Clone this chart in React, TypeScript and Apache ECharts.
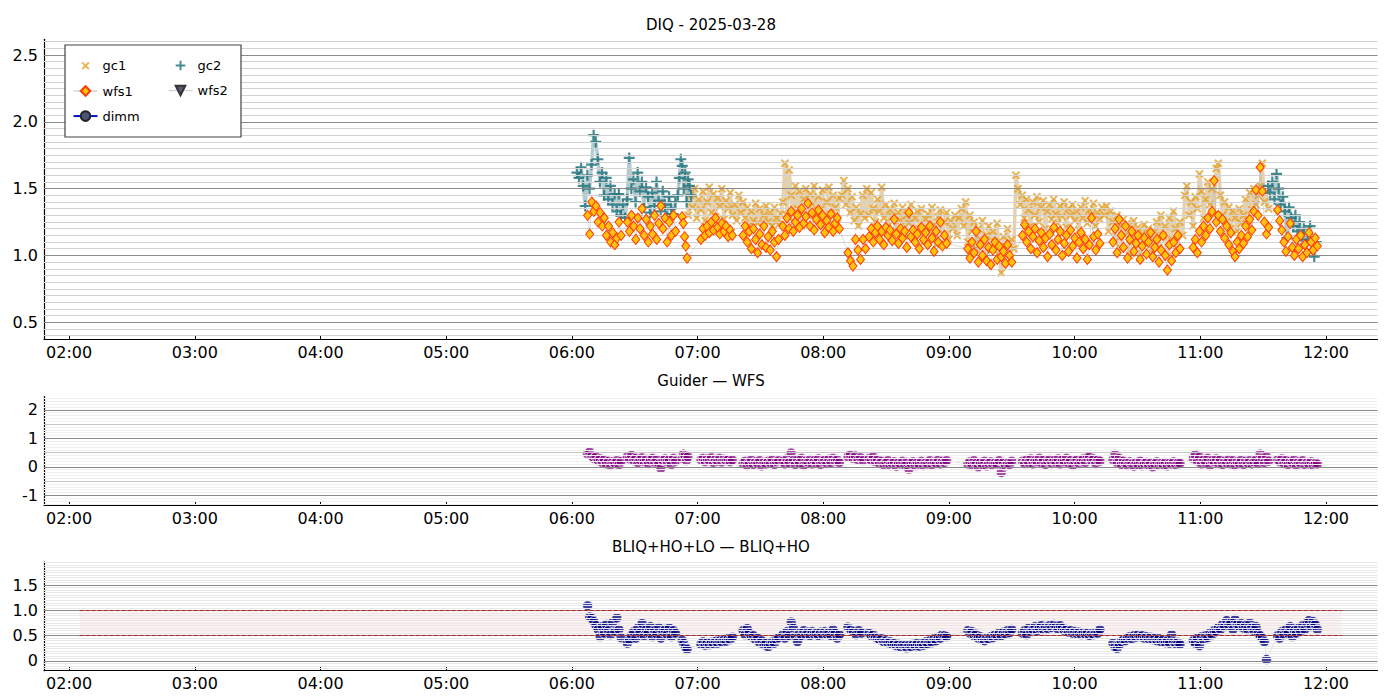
import React, { useEffect, useRef } from "react";
import * as echarts from "echarts";

type Seg = [string, number, (number | null)[]];

const FONT = "DejaVu Sans";
const TITLES = ["DIQ - 2025-03-28", "Guider — WFS", "BLIQ+HO+LO — BLIQ+HO"];
const X_TICKS = ["02:00", "03:00", "04:00", "05:00", "06:00", "07:00", "08:00", "09:00", "10:00", "11:00", "12:00"];
const X_RANGE = ["01:48:00", "12:24:36"];
const Y_TICKS_TOP = [0.5, 1.0, 1.5, 2.0, 2.5];
const Y_TICKS_MID = [-1, 0, 1, 2];
const Y_TICKS_BOT = [0, 0.5, 1.0, 1.5];
const Y_RANGE_TOP = [0.372, 2.618];
const Y_RANGE_MID = [-1.34, 2.47];
const Y_RANGE_BOT = [-0.192, 1.955];
const BAND_TIMES = ["02:05:00", "12:07:30"];
const BAND_LEVELS = [0.5, 1.0];
const LEGEND_LEFT = ["gc1", "wfs1", "dimm"];
const LEGEND_RIGHT = ["gc2", "wfs2"];

// gc1 — guide camera 1 (x markers)
const gc1: Seg[] = [
  ["06:54:36", 1, [1.55, 1.30, 1.45, 1.36, 1.50, 1.28, 1.42, 1.34, 1.48, 1.26, 1.40, 1.51, 1.32, 1.46, 1.29, 1.43, 1.37, 1.50, 1.27, 1.41, 1.35, 1.47, 1.30]],
  ["07:17:42", 1, [1.38, 1.26, 1.45, 1.32, 1.40, 1.28, 1.36, 1.22, 1.33, 1.26, 1.39, 1.24, 1.35, 1.21, 1.30, 1.37, 1.25, 1.32, 1.22, 1.36, 1.28, 1.23, 1.31]],
  ["07:40:42", 1, [1.40, 1.69, 1.30, 1.64, 1.45, 1.25, 1.52, 1.35, 1.48, 1.22, 1.42, 1.50, 1.30, 1.46, 1.38, 1.52, 1.27, 1.44, 1.34, 1.49, 1.20, 1.40, 1.51, 1.31, 1.45, 1.36, 1.24, 1.43]],
  ["08:08:48", 1, [1.45, 1.56, 1.38, 1.50, 1.32, 1.44, 1.26, 1.36, 1.22, 1.31, 1.45, 1.28, 1.50]],
  ["08:21:54", 1, [1.30, 1.47, 1.35, 1.25, 1.42, 1.33, 1.51, 1.28, 1.38, 1.22, 1.34, 1.29, 1.39, 1.18, 1.32, 1.26, 1.36, 1.15, 1.30, 1.24, 1.38, 1.12, 1.28, 1.33, 1.20, 1.35, 1.10, 1.27, 1.31, 1.18, 1.36, 1.23, 1.08, 1.29, 1.34, 1.16, 1.25, 1.32, 1.12, 1.26, 1.20, 1.30, 1.15, 1.28]],
  ["09:06:00", 1, [1.35, 1.22, 1.40, 1.10, 1.30, 1.18, 1.25, 1.05, 1.20, 1.12, 1.26, 0.98, 1.15, 1.22, 1.04, 1.18, 1.10, 1.24, 1.00, 0.87, 1.14, 1.07, 1.20, 0.97, 1.12, 1.05]],
  ["09:32:00", 1, [1.60, 1.50, 1.38, 1.45, 1.28, 1.42, 1.34, 1.22, 1.40, 1.30, 1.44, 1.25, 1.36, 1.41, 1.20, 1.33, 1.38, 1.27, 1.42, 1.31, 1.24, 1.37, 1.29, 1.40, 1.21, 1.35, 1.30, 1.38, 1.26, 1.33, 1.19, 1.36, 1.28, 1.41, 1.24, 1.34, 1.30, 1.39, 1.22, 1.32, 1.27, 1.36]],
  ["10:14:12", 1, [1.30, 1.37, 1.18, 1.33, 1.25, 1.10, 1.30, 1.22, 1.05, 1.27, 1.15, 1.24, 1.00, 1.19, 1.26, 1.12, 1.21, 0.98, 1.16, 1.23, 1.08, 1.20, 1.13, 1.02, 1.18, 1.25, 1.06, 1.30, 1.15, 1.22, 0.99, 1.28, 1.12, 1.33, 1.20, 1.05, 1.25]],
  ["10:51:36", 1, [1.15, 1.45, 1.52, 1.30, 1.40, 1.22, 1.44, 1.35, 1.61, 1.48, 1.28, 1.42, 1.55, 1.38, 1.50, 1.30, 1.65, 1.69, 1.45, 1.30, 1.40, 1.25, 1.36, 1.20, 1.33, 1.28, 1.18, 1.35, 1.24, 1.30, 1.42, 1.26, 1.47, 1.34, 1.50, 1.38, 1.45, 1.52, 1.69, 1.40, 1.48, 1.35]],
];

// gc2 — guide camera 2 (+ markers); null = no data between the two runs
const gc2: Seg[] = [
  ["06:02:24", 1, [1.62, 1.58, 1.66, 1.52, 1.37, 1.60, 1.50, 1.68, 1.90, 1.85, 1.72, 1.55, 1.62, 1.45, 1.58, 1.42, 1.52, 1.38, 1.46, 1.33, 1.46, 1.30, 1.38, 1.28, 1.42, 1.73, 1.50, 1.57, 1.40, 1.62, 1.48, 1.55, 1.36, 1.51, 1.44, 1.32, 1.47, 1.37, 1.55, 1.41, 1.33, 1.48, 1.38, 1.29, 1.44, 1.35, 1.31, 1.40]],
  ["06:50:36", 0.7, [1.45, 1.58, 1.72, 1.67, 1.50, 1.62, 1.40, 1.57, 1.52, 1.45]],
  ["09:00:00", 1, [null]],
  ["11:32:24", 1, [1.52, 1.47, 1.55, 1.42, 1.61, 1.50, 1.38, 1.44, 1.33, 1.13, 1.36, 1.28, 1.22, 1.30, 1.18, 1.25, 1.12, 1.20, 1.08, 1.15, 1.22, 1.05, 0.99, 1.10]],
];

// wfs1 — wavefront sensor 1 (diamonds)
const wfs1: Seg[] = [
  ["06:07:30", 1, [1.30, 1.16, 1.40, 1.33, 1.37, 1.25, 1.32, 1.22, 1.28, 1.15, 1.22, 1.10, 1.17, 1.08, 1.13, 1.25, 1.15]],
  ["06:26:30", 1, [1.25, 1.18, 1.30, 1.22, 1.12, 1.28, 1.20, 1.35, 1.15, 1.27, 1.10, 1.22, 1.16, 1.30, 1.12, 1.24, 1.37, 1.20, 1.28, 1.10, 1.25, 1.15, 1.30, 1.18]],
  ["06:52:36", 0.6, [1.29, 1.24, 1.14, 1.07, 0.98]],
  ["07:01:36", 1, [1.12, 1.20, 1.15, 1.22, 1.17, 1.25, 1.19, 1.28, 1.21, 1.16, 1.24, 1.18, 1.22, 1.14, 1.19, 1.15]],
  ["07:21:42", 1, [1.15, 1.22, 1.10, 1.18, 1.05, 1.20, 1.12, 1.02, 1.16, 1.08, 1.22, 1.06, 1.14, 1.04, 1.18, 1.10, 0.99, 1.12]],
  ["07:40:42", 1, [1.22, 1.15, 1.28, 1.20, 1.33, 1.18, 1.25, 1.30, 1.21, 1.35, 1.24, 1.29, 1.39, 1.22, 1.32, 1.19, 1.27, 1.34, 1.23, 1.30, 1.17, 1.26, 1.21, 1.31, 1.18, 1.24, 1.28, 1.20]],
  ["08:11:48", 1.2, [1.02, 0.96, 0.92, 1.12, 1.04, 0.97, 1.12, 1.05]],
  ["08:21:54", 1, [1.14, 1.20, 1.10, 1.17, 1.22, 1.12, 1.18, 1.08, 1.21, 1.15, 1.19, 1.11, 1.27, 1.16, 1.09, 1.20, 1.13, 1.18, 1.06, 1.32, 1.14, 1.19, 1.10, 1.16, 1.05, 1.21, 1.12, 1.17, 1.08, 1.22, 1.13, 1.03, 1.18, 1.10, 1.25, 1.07, 1.15, 1.09]],
  ["09:09:00", 1, [1.05, 0.98, 1.10, 1.02, 1.18, 0.95, 1.08, 1.00, 1.12, 0.96, 1.06, 0.93, 1.04, 1.10, 0.97, 1.07, 0.99, 1.03, 0.94, 1.08, 1.00, 0.95]],
  ["09:35:06", 1, [1.15, 1.23, 1.10, 1.18, 1.05, 1.14, 1.20, 1.02, 1.11, 1.17, 1.06, 1.13, 0.99, 1.16, 1.08, 1.21, 1.04, 1.12, 1.18, 1.00, 1.09, 1.15, 1.03, 1.19, 1.07, 1.13, 0.98, 1.10, 1.17, 1.05, 1.12, 0.97, 1.08, 1.28, 1.14, 1.04, 1.16, 1.09]],
  ["10:18:18", 1, [1.10, 1.20, 1.02, 1.27, 1.15, 1.06, 1.22, 0.98, 1.12, 1.18, 1.03, 1.09, 1.15, 0.97, 1.07, 1.13, 1.01, 1.10, 1.17, 0.99, 1.06, 1.12, 0.95, 1.04, 1.15, 1.00, 0.89, 1.08, 0.96, 1.10, 1.02, 1.15, 1.05]],
  ["10:56:36", 1, [1.06, 1.12, 1.02, 1.18, 1.10, 1.22, 1.15, 1.28, 1.20, 1.33, 1.56, 1.25, 1.30, 1.18, 1.27, 1.13, 1.22, 1.08, 1.17, 1.03, 0.99, 1.10, 1.05, 1.15, 1.09, 1.22, 1.14, 1.27, 1.19, 1.33, 1.49, 1.30, 1.66, 1.48, 1.25, 1.16, 1.21]],
  ["11:36:54", 1, [1.34, 1.26, 1.19, 1.10, 1.03, 1.14, 1.24, 1.06, 1.00, 1.12, 1.05, 1.15, 0.99, 1.08, 1.02, 1.17, 1.10, 1.04, 1.13, 1.07]],
];

// Guider − WFS difference
const guiderWfs: Seg[] = [
  ["06:07:30", 1, [0.45, 0.52, 0.38, 0.30, 0.35, 0.22, 0.28, 0.15, 0.25, 0.10, 0.20, 0.05, 0.18, 0.12, 0.22, 0.08, 0.20]],
  ["06:26:30", 1, [0.35, 0.28, 0.40, 0.22, 0.30, 0.15, 0.25, 0.32, 0.18, 0.27, 0.12, 0.24, 0.30, 0.16, 0.26, 0.10, -0.05, 0.22, 0.28, 0.18, 0.25, 0.08, 0.30, 0.20]],
  ["06:52:36", 0.7, [0.30, 0.45, 0.38, 0.22, 0.35]],
  ["07:01:36", 1, [0.25, 0.30, 0.18, 0.28, 0.22, 0.32, 0.15, 0.26, 0.20, 0.30, 0.17, 0.27, 0.22, 0.25, 0.18, 0.24]],
  ["07:21:42", 1, [0.12, 0.20, 0.05, 0.15, 0.25, 0.08, 0.18, 0.12, 0.22, 0.03, 0.16, 0.10, 0.20, 0.14, 0.25, 0.08, 0.18, 0.22]],
  ["07:40:42", 1, [0.20, 0.10, 0.28, 0.15, 0.49, 0.22, 0.08, 0.25, 0.12, 0.30, 0.05, 0.20, 0.16, 0.26, 0.10, 0.22, 0.14, 0.28, 0.08, 0.19, 0.24, 0.12, 0.27, 0.15, 0.30, 0.20, 0.25, 0.15]],
  ["08:11:48", 1.2, [0.35, 0.42, 0.30, 0.38, 0.25, 0.32, 0.22]],
  ["08:21:54", 1, [0.30, 0.22, 0.35, 0.18, 0.25, 0.12, 0.20, 0.08, 0.15, 0.22, 0.05, 0.12, 0.18, 0.02, 0.14, 0.10, 0.20, 0.06, 0.16, -0.08, 0.12, 0.18, 0.04, 0.14, 0.09, 0.20, 0.05, 0.15, 0.10, 0.22, 0.07, 0.17, 0.12, 0.24, 0.10, 0.20, 0.15, 0.22]],
  ["09:09:00", 1, [0.10, 0.18, 0.05, 0.22, 0.12, 0.00, 0.15, 0.08, 0.20, 0.03, 0.12, 0.18, 0.06, 0.14, 0.10, 0.22, -0.20, 0.15, 0.04, 0.12, 0.08, 0.20]],
  ["09:35:06", 1, [0.20, 0.12, 0.25, 0.15, 0.28, 0.10, 0.22, 0.18, 0.30, 0.14, 0.24, 0.08, 0.20, 0.26, 0.12, 0.22, 0.16, 0.28, 0.10, 0.24, 0.18, 0.30, 0.13, 0.22, 0.05, 0.19, 0.25, 0.12, 0.21, 0.28, 0.15, 0.32, 0.35, 0.22, 0.28, 0.12, 0.25, 0.20]],
  ["10:18:18", 1, [0.25, 0.43, 0.15, 0.30, 0.08, 0.20, 0.12, 0.05, 0.18, 0.10, 0.02, 0.15, 0.08, 0.20, 0.04, 0.12, 0.16, 0.06, 0.14, 0.00, 0.10, 0.18, 0.05, 0.12, 0.08, 0.15, 0.03, 0.13, 0.10, 0.18, 0.07, 0.14, 0.12]],
  ["10:56:36", 1, [0.30, 0.42, 0.20, 0.35, 0.10, 0.25, 0.15, 0.30, 0.05, 0.22, 0.18, 0.28, 0.12, 0.25, 0.08, 0.20, 0.15, 0.26, 0.10, 0.22, 0.05, 0.18, 0.12, 0.24, 0.08, 0.20, 0.14, 0.22, 0.10, 0.18, 0.25, 0.12, 0.45, 0.30, 0.15, 0.35, 0.20]],
  ["11:36:54", 1, [0.25, 0.18, 0.28, 0.12, 0.22, 0.08, 0.20, 0.15, 0.25, 0.05, 0.18, 0.12, 0.22, 0.08, 0.15, 0.10, 0.18, 0.05, 0.12, 0.10]],
];

// BLIQ+HO+LO − BLIQ+HO difference
const bliqDiff: Seg[] = [
  ["06:07:30", 1, [1.09, 0.87, 0.84, 0.78, 0.70, 0.62, 0.48, 0.68, 0.55, 0.72, 0.60, 0.52, 0.76, 0.58, 0.85, 0.62, 0.46]],
  ["06:26:30", 1, [0.35, 0.42, 0.50, 0.58, 0.45, 0.65, 0.55, 0.74, 0.50, 0.62, 0.56, 0.68, 0.48, 0.60, 0.53, 0.66, 0.45, 0.58, 0.62, 0.52, 0.65, 0.48, 0.60, 0.55]],
  ["06:52:36", 0.8, [0.41, 0.35, 0.28, 0.23]],
  ["07:01:36", 1, [0.33, 0.38, 0.31, 0.36, 0.32, 0.37, 0.34, 0.39, 0.35, 0.40, 0.37, 0.42, 0.39, 0.44, 0.42, 0.47]],
  ["07:21:42", 1, [0.60, 0.52, 0.64, 0.55, 0.48, 0.50, 0.42, 0.45, 0.36, 0.40, 0.32, 0.35, 0.28, 0.33, 0.38, 0.35, 0.42, 0.46]],
  ["07:40:42", 1, [0.52, 0.45, 0.58, 0.50, 0.77, 0.65, 0.48, 0.38, 0.55, 0.50, 0.60, 0.52, 0.57, 0.50, 0.58, 0.53, 0.55, 0.50, 0.57, 0.52, 0.58, 0.53, 0.56, 0.50, 0.62, 0.55, 0.45, 0.52]],
  ["08:11:48", 1.3, [0.67, 0.62, 0.58, 0.52, 0.60, 0.55]],
  ["08:21:54", 1, [0.55, 0.50, 0.52, 0.47, 0.45, 0.42, 0.44, 0.38, 0.40, 0.36, 0.38, 0.33, 0.35, 0.30, 0.33, 0.28, 0.32, 0.30, 0.26, 0.31, 0.28, 0.33, 0.30, 0.35, 0.29, 0.34, 0.31, 0.38, 0.33, 0.40, 0.36, 0.44, 0.40, 0.47, 0.45, 0.52, 0.50, 0.48]],
  ["09:09:00", 1, [0.60, 0.55, 0.58, 0.50, 0.53, 0.45, 0.48, 0.42, 0.40, 0.45, 0.43, 0.48, 0.46, 0.52, 0.49, 0.55, 0.50, 0.57, 0.53, 0.60, 0.56, 0.62]],
  ["09:35:06", 1, [0.55, 0.60, 0.52, 0.65, 0.58, 0.62, 0.68, 0.60, 0.65, 0.70, 0.62, 0.67, 0.64, 0.70, 0.66, 0.72, 0.68, 0.63, 0.70, 0.65, 0.60, 0.62, 0.57, 0.60, 0.55, 0.58, 0.54, 0.57, 0.52, 0.56, 0.53, 0.55, 0.50, 0.54, 0.52, 0.56, 0.55, 0.62]],
  ["10:18:18", 1, [0.35, 0.28, 0.25, 0.32, 0.38, 0.42, 0.40, 0.45, 0.48, 0.44, 0.50, 0.47, 0.52, 0.48, 0.50, 0.45, 0.48, 0.44, 0.47, 0.42, 0.45, 0.40, 0.44, 0.38, 0.42, 0.36, 0.40, 0.35, 0.52, 0.38, 0.34, 0.37, 0.33]],
  ["10:56:36", 1, [0.40, 0.35, 0.45, 0.30, 0.48, 0.42, 0.50, 0.46, 0.55, 0.52, 0.60, 0.58, 0.66, 0.62, 0.72, 0.68, 0.80, 0.70, 0.75, 0.62, 0.82, 0.72, 0.68, 0.74, 0.65, 0.70, 0.62, 0.75, 0.66, 0.60, 0.68, 0.55, 0.50, 0.45, 0.38, 0.03]],
  ["11:36:54", 1, [0.50, 0.45, 0.58, 0.52, 0.62, 0.55, 0.68, 0.48, 0.60, 0.55, 0.65, 0.58, 0.70, 0.62, 0.75, 0.80, 0.68, 0.78, 0.72, 0.62]],
];

const toMin = (s: string) => {
  const p = s.split(":").map(Number);
  return p[0] * 60 + p[1] + (p[2] || 0) / 60;
};
const pad = (n: number) => (n < 10 ? "0" + n : "" + n);
const fmtTime = (v: number) => {
  const h = Math.floor(v / 60 + 1e-6);
  const m = Math.round(v - h * 60);
  return pad(h) + ":" + pad(m);
};
const expand = (segs: Seg[]) =>
  segs.flatMap(([t, st, vals]) => {
    const t0 = toMin(t);
    return vals.map((v, i) => [Math.round((t0 + i * st) * 1000) / 1000, v === null ? "-" : v]);
  });

const PLUS = "path://M4 0H6V4H10V6H6V10H4V6H0V4H4Z";

function gridLineData(min: number, max: number, minorStep: number, levels: { step: number; color: string }[]) {
  const out: any[] = [];
  const k0 = Math.ceil(min / minorStep - 1e-6);
  const k1 = Math.floor(max / minorStep + 1e-6);
  const all: number[] = [];
  for (let k = k0; k <= k1; k++) all.push(Math.round(k * minorStep * 1000) / 1000);
  const isMult = (v: number, s: number) => Math.abs(v / s - Math.round(v / s)) < 1e-6;
  const byLevel: any[][] = levels.map(() => []);
  all.forEach((v) => {
    const idx = levels.findIndex((l) => isMult(v, l.step));
    const lv = idx >= 0 ? idx : levels.length - 1;
    byLevel[lv].push({ yAxis: v, lineStyle: { color: levels[lv].color, width: 1, type: "solid" } });
  });
  for (let i = byLevel.length - 1; i >= 0; i--) out.push(...byLevel[i]);
  return out;
}

function helperSeries(idx: number, lines: any[], extra: any = {}) {
  return {
    type: "line",
    xAxisIndex: idx,
    yAxisIndex: idx,
    data: [],
    silent: true,
    z: 0,
    markLine: {
      silent: true,
      symbol: ["none", "none"],
      label: { show: false },
      emphasis: { disabled: true },
      animation: false,
      data: lines,
    },
    ...extra,
  };
}

export default function App() {
  const ref = useRef<HTMLDivElement>(null);
  useEffect(() => {
    if (!ref.current) return;
    const chart = echarts.init(ref.current, null, { renderer: "svg" });
    const xMin = toMin(X_RANGE[0]);
    const xMax = toMin(X_RANGE[1]);
    const xTickVals = X_TICKS.map(toMin);
    const L = 44;
    const R = 22.5;
    const grids = [
      { left: L, right: R, top: 39.3, height: 300 },
      { left: L, right: R, top: 396.5, height: 108.5 },
      { left: L, right: R, top: 562, height: 108.7 },
    ];
    const xAxes = grids.map((_, i) => ({
      type: "value",
      gridIndex: i,
      min: xMin,
      max: xMax,
      axisLine: { show: true, onZero: false, lineStyle: { color: "#000", width: 1.2 } },
      axisTick: { show: true, inside: true, length: 4, customValues: xTickVals, lineStyle: { color: "#000", width: 1 } },
      axisLabel: { customValues: xTickVals, formatter: (v: number) => fmtTime(v), fontSize: 16, color: "#000", fontFamily: FONT, margin: 5 },
      splitLine: { show: false },
    }));
    const yCfg = [
      { r: Y_RANGE_TOP, t: Y_TICKS_TOP, f: (v: number) => v.toFixed(1) },
      { r: Y_RANGE_MID, t: Y_TICKS_MID, f: (v: number) => String(v) },
      { r: Y_RANGE_BOT, t: Y_TICKS_BOT, f: (v: number) => (v === 0 ? "0" : v.toFixed(1)) },
    ];
    const yAxes = yCfg.map((c, i) => ({
      type: "value",
      gridIndex: i,
      min: c.r[0],
      max: c.r[1],
      axisLine: { show: true, onZero: false, lineStyle: { color: "#000", width: 1.2 } },
      axisTick: { show: false },
      axisLabel: { customValues: c.t, formatter: c.f, fontSize: 16, color: "#000", fontFamily: FONT, margin: 6 },
      splitLine: { show: false },
    }));

    const topLines = gridLineData(Y_RANGE_TOP[0], Y_RANGE_TOP[1], 0.05, [
      { step: 0.5, color: "#8a8a8a" },
      { step: 0.05, color: "#d2d2d2" },
    ]);
    const midLines = gridLineData(Y_RANGE_MID[0], Y_RANGE_MID[1], 0.1, [
      { step: 1, color: "#8a8a8a" },
      { step: 0.5, color: "#c6c6c6" },
      { step: 0.1, color: "#f0f0f0" },
    ]);
    const botLines = gridLineData(Y_RANGE_BOT[0], Y_RANGE_BOT[1], 0.05, [
      { step: 0.5, color: "#8a8a8a" },
      { step: 0.05, color: "#e8e8e8" },
    ]);

    const b0 = toMin(BAND_TIMES[0]);
    const b1 = toMin(BAND_TIMES[1]);
    const grayLine = { color: "rgba(170,170,170,0.5)", width: 0.8 };

    const series: any[] = [
      helperSeries(0, topLines),
      helperSeries(1, midLines),
      helperSeries(2, botLines, {
        markArea: {
          silent: true,
          itemStyle: { color: "rgba(255,170,170,0.16)" },
          data: [[{ xAxis: b0, yAxis: BAND_LEVELS[0] }, { xAxis: b1, yAxis: BAND_LEVELS[1] }]],
        },
      }),
      {
        type: "line",
        xAxisIndex: 2,
        yAxisIndex: 2,
        data: [],
        silent: true,
        z: 1,
        markLine: {
          silent: true,
          symbol: ["none", "none"],
          label: { show: false },
          emphasis: { disabled: true },
          lineStyle: { color: "#b0202a", type: [4, 2], width: 1.2 },
          data: BAND_LEVELS.map((lv) => [{ coord: [b0, lv] }, { coord: [b1, lv] }]),
        },
      },
      {
        name: "gc1",
        type: "line",
        xAxisIndex: 0,
        yAxisIndex: 0,
        data: expand(gc1),
        symbol: PLUS,
        symbolRotate: 45,
        symbolSize: 10,
        showAllSymbol: true,
        itemStyle: { color: "rgba(228,160,45,0.8)" },
        lineStyle: { color: "rgba(214,178,118,0.6)", width: 3.5 },
        z: 3,
      },
      {
        name: "gc2",
        type: "line",
        xAxisIndex: 0,
        yAxisIndex: 0,
        data: expand(gc2),
        connectNulls: false,
        symbol: PLUS,
        symbolSize: 11,
        showAllSymbol: true,
        itemStyle: { color: "rgba(35,118,126,0.85)" },
        lineStyle: { color: "rgba(160,190,196,0.8)", width: 3.5 },
        z: 4,
      },
      {
        name: "wfs1",
        type: "line",
        xAxisIndex: 0,
        yAxisIndex: 0,
        data: expand(wfs1),
        symbol: "diamond",
        symbolSize: [8, 10],
        showAllSymbol: true,
        itemStyle: { color: "#ffc20e", borderColor: "#ff3a00", borderWidth: 1 },
        lineStyle: grayLine,
        z: 5,
      },
      {
        name: "wfs2",
        type: "line",
        xAxisIndex: 0,
        yAxisIndex: 0,
        data: [],
        symbol: "triangle",
        symbolRotate: 180,
        symbolSize: 8,
        itemStyle: { color: "#5a5a72", borderColor: "#333", borderWidth: 0.5 },
        lineStyle: { color: "#d8d8d8", width: 1.5 },
        z: 5,
      },
      {
        name: "dimm",
        type: "line",
        xAxisIndex: 0,
        yAxisIndex: 0,
        data: [],
        symbol: "circle",
        symbolSize: 9,
        itemStyle: { color: "#4b5577", borderColor: "#222", borderWidth: 0.5 },
        lineStyle: { color: "#0010c8", width: 2 },
        z: 5,
      },
      {
        name: "Guider — WFS",
        type: "line",
        xAxisIndex: 1,
        yAxisIndex: 1,
        data: expand(guiderWfs),
        symbol: "circle",
        symbolSize: 10,
        showAllSymbol: true,
        itemStyle: { color: "rgba(128,0,128,0.7)", borderColor: "rgba(255,255,255,0.85)", borderWidth: 0.8 },
        lineStyle: grayLine,
        z: 3,
      },
      {
        name: "BLIQ+HO+LO — BLIQ+HO",
        type: "line",
        xAxisIndex: 2,
        yAxisIndex: 2,
        data: expand(bliqDiff),
        symbol: "circle",
        symbolSize: 10,
        showAllSymbol: true,
        itemStyle: { color: "rgba(0,0,128,0.75)", borderColor: "rgba(255,255,255,0.85)", borderWidth: 0.8 },
        lineStyle: grayLine,
        z: 3,
      },
    ];

    const legendItem = (n: string) => {
      if (n === "gc1" || n === "gc2") return { name: n, lineStyle: { opacity: 0 } };
      if (n === "dimm") return { name: n, lineStyle: { color: "#0010c8", width: 2 } };
      return { name: n, lineStyle: { color: "#d6d6d6", width: 1.5 } };
    };
    const legendBase = {
      orient: "vertical",
      top: 59,
      itemWidth: 24,
      itemHeight: 12,
      itemGap: 12,
      padding: 0,
      selectedMode: false,
      z: 20,
      textStyle: { fontSize: 13, color: "#000", fontFamily: FONT, lineHeight: 12 },
    };

    chart.setOption({
      animation: false,
      textStyle: { fontFamily: FONT },
      grid: grids,
      xAxis: xAxes,
      yAxis: yAxes,
      legend: [
        { ...legendBase, left: 72.5, data: LEGEND_LEFT.map(legendItem) },
        { ...legendBase, left: 167.5, data: LEGEND_RIGHT.map(legendItem) },
      ],
      graphic: [
        { type: "rect", z: 15, shape: { x: 65, y: 45, width: 176, height: 92 }, style: { fill: "#fff", stroke: "#444", lineWidth: 1.2 } },
        ...TITLES.map((t, i) => ({
          type: "text",
          z: 20,
          x: 711,
          y: [25, 381, 547][i],
          style: { text: t, fontSize: 15, fontFamily: FONT, fill: "#000", align: "center", verticalAlign: "middle" },
        })),
      ],
      series,
    });
    return () => chart.dispose();
  }, []);
  return (
    <div
      ref={ref}
      style={{ position: "fixed", left: 0, top: 0, width: 1400, height: 700, background: "#fff" }}
    />
  );
}
